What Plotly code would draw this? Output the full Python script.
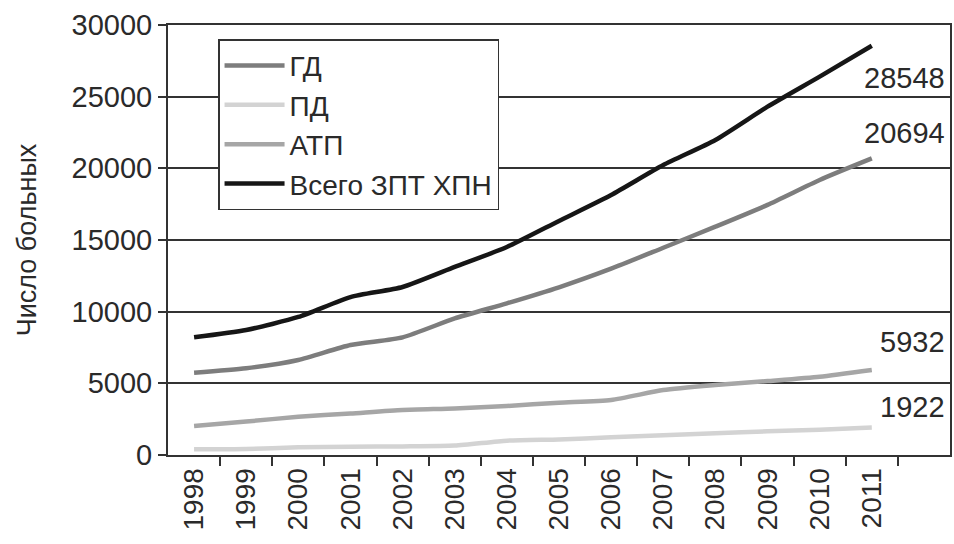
import plotly.graph_objects as go

# Годы наблюдения
years = [1998, 1999, 2000, 2001, 2002, 2003, 2004, 2005, 2006, 2007, 2008, 2009, 2010, 2011]

# Число больных по видам заместительной почечной терапии
gd = [5740, 6050, 6630, 7670, 8210, 9530, 10580, 11700, 13000, 14460, 15930, 17450, 19190, 20694]
pd_ = [400, 420, 540, 580, 600, 660, 1000, 1090, 1230, 1370, 1510, 1650, 1770, 1922]
atp = [2020, 2330, 2670, 2900, 3140, 3250, 3420, 3650, 3840, 4530, 4880, 5160, 5460, 5932]
total = [8210, 8720, 9630, 11020, 11720, 13120, 14510, 16330, 18140, 20230, 21980, 24300, 26400, 28548]

y_ticks = [0, 5000, 10000, 15000, 20000, 25000, 30000]
y_tick_text = [str(v) for v in y_ticks]

FONT = "Liberation Sans, Arial, sans-serif"
TEXT = "#2a2a2a"
AXIS = "#333333"

# (название, значения, цвет, вертикальный сдвиг подписи в пикселях)
series = [
    ("ГД", gd, "#7d7d7d", 25),
    ("ПД", pd_, "#d3d3d3", 20),
    ("АТП", atp, "#a6a6a6", 28),
    ("Всего ЗПТ ХПН", total, "#161616", -32),
]

fig = go.Figure()
for name, vals, color, _ in series:
    fig.add_trace(go.Scatter(
        x=years, y=vals, name=name, mode="lines",
        line=dict(color=color, width=4.5, shape="spline", smoothing=0.6),
    ))

# Подписи последних значений справа от линий
for name, vals, color, shift in series:
    fig.add_annotation(
        x=years[-1] + 1.45, y=vals[-1], text=str(vals[-1]),
        xref="x", yref="y", xanchor="right", yanchor="middle",
        yshift=shift, showarrow=False,
        font=dict(family=FONT, size=29, color=TEXT),
    )

fig.update_layout(
    width=954, height=544,
    margin=dict(l=168, r=2, t=25, b=89),
    paper_bgcolor="white", plot_bgcolor="white",
    font=dict(family=FONT, size=29, color=TEXT),
    legend=dict(
        x=0.064, y=0.967, xanchor="left", yanchor="top",
        bgcolor="white", bordercolor=AXIS, borderwidth=1.5,
        font=dict(family=FONT, size=28, color=TEXT),
        tracegroupgap=0, itemwidth=60,
    ),
    showlegend=True,
)

fig.update_xaxes(
    range=[years[0] - 0.5, years[-1] + 1.5],
    tickmode="array", tickvals=years, ticktext=[str(y) for y in years],
    tickangle=-90, ticks="", showgrid=False, zeroline=False,
    showline=True, linecolor=AXIS, linewidth=2, mirror=True,
    tickfont=dict(family=FONT, size=28, color=TEXT),
    minor=dict(tickmode="array", tickvals=[y + 0.5 for y in years],
               ticks="outside", ticklen=9, tickcolor=AXIS, tickwidth=1.5,
               showgrid=False),
)

fig.update_yaxes(
    range=[0, 30000], tickmode="array", tickvals=y_ticks, ticktext=y_tick_text,
    ticks="outside", ticklen=8, tickcolor=AXIS, tickwidth=1.5,
    showgrid=True, gridcolor=AXIS, gridwidth=1.5, zeroline=False,
    showline=True, linecolor=AXIS, linewidth=2, mirror=True,
    tickfont=dict(family=FONT, size=29, color=TEXT),
    title=dict(text="Число больных", font=dict(family=FONT, size=27, color=TEXT), standoff=27),
)

fig.write_html("out.html")
